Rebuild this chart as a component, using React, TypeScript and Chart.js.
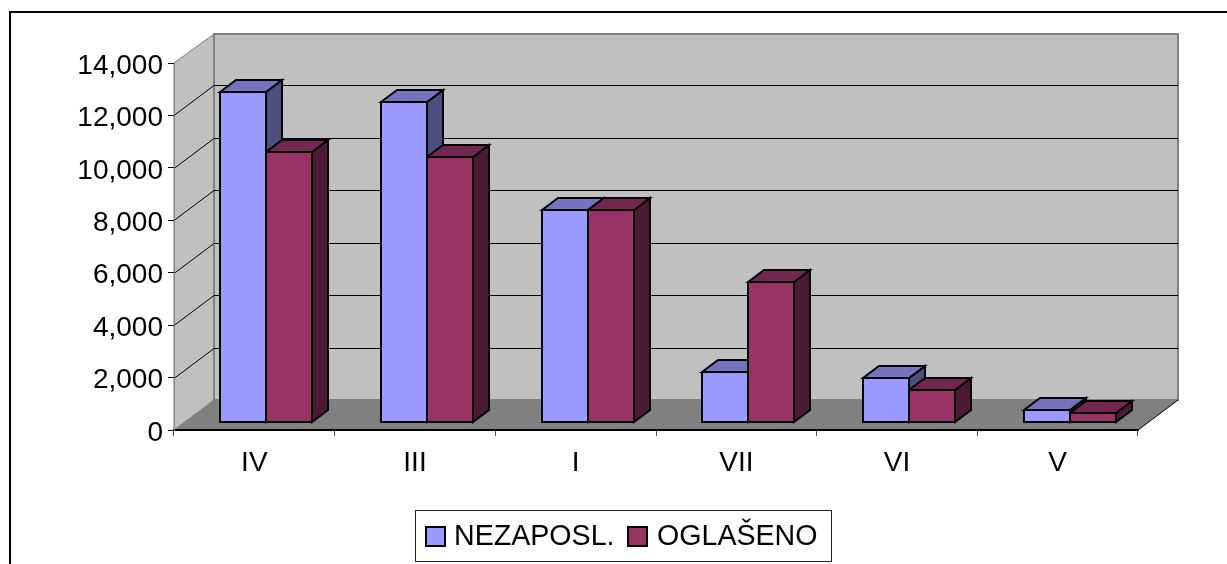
import React, { useEffect, useRef } from "react";
import { Chart, registerables } from "chart.js";

Chart.register(...registerables);

const categories = ["IV", "III", "I", "VII", "VI", "V"];
const nezaposl = [12650, 12290, 8160, 1970, 1760, 540];
const oglaseno = [10360, 10200, 8160, 5410, 1300, 420];
const yTicks = [0, 2000, 4000, 6000, 8000, 10000, 12000, 14000];
const seriesNames = ["NEZAPOSL.", "OGLAŠENO"];

const FONT = '"Liberation Sans", Arial, sans-serif';
const DEPTH_X = 40;
const DEPTH_Y = 30;
const BAR_SHIFT_X = 12;
const BAR_SHIFT_Y = 7;
const BAR_DX = 16;
const BAR_DY = 12;
const sideColors = ["#4D4D80", "#4D1A33"];
const topColors = ["#7373BF", "#732650"];

function poly(ctx: CanvasRenderingContext2D, pts: number[][], fill: string, stroke: string | null, lw = 1) {
  ctx.beginPath();
  pts.forEach(([x, y], i) => (i ? ctx.lineTo(x, y) : ctx.moveTo(x, y)));
  ctx.closePath();
  ctx.fillStyle = fill;
  ctx.fill();
  if (stroke) {
    ctx.strokeStyle = stroke;
    ctx.lineWidth = lw;
    ctx.stroke();
  }
}

const scenePlugin = {
  id: "scene3d",
  beforeDraw(chart: any) {
    const { ctx, chartArea: a, scales } = chart;
    const y = scales.y;
    // the reference's value labels sit slightly below their tick marks
    y.getLabelItems().forEach((it: any) => {
      if (!it.shifted) {
        it.options.translation[1] += 3;
        it.shifted = true;
      }
    });
    const l = a.left, r = a.right, t = a.top, b = a.bottom;
    ctx.save();
    // outer frame
    ctx.strokeStyle = "#000";
    ctx.lineWidth = 2;
    ctx.beginPath();
    ctx.moveTo(10, 564);
    ctx.lineTo(10, 12);
    ctx.lineTo(1227, 12);
    ctx.stroke();
    // left wall
    poly(ctx, [[l, t], [l + DEPTH_X, t - DEPTH_Y + 1], [l + DEPTH_X, b - DEPTH_Y], [l, b]], "#C0C0C0", "#808080", 1);
    // back wall
    poly(ctx, [[l + DEPTH_X, t - DEPTH_Y + 1], [r + DEPTH_X, t - DEPTH_Y + 1], [r + DEPTH_X, b - DEPTH_Y], [l + DEPTH_X, b - DEPTH_Y]], "#C0C0C0", "#808080", 2);
    // grid lines
    ctx.strokeStyle = "#000";
    ctx.lineWidth = 1;
    yTicks.slice(1, -1).forEach((v) => {
      const py = Math.round(y.getPixelForValue(v)) + 0.5;
      ctx.beginPath();
      ctx.moveTo(l, py);
      ctx.lineTo(l + DEPTH_X, py - DEPTH_Y);
      ctx.lineTo(r + DEPTH_X, py - DEPTH_Y);
      ctx.stroke();
    });
    // floor
    poly(ctx, [[l, b], [l + DEPTH_X, b - DEPTH_Y], [r + DEPTH_X, b - DEPTH_Y], [r, b]], "#808080", null);
    ctx.strokeStyle = "#000";
    ctx.lineWidth = 1;
    ctx.beginPath();
    ctx.moveTo(r, b);
    ctx.lineTo(r + DEPTH_X, b - DEPTH_Y);
    ctx.stroke();
    ctx.restore();
  },
  beforeDatasetsDraw(chart: any) {
    const { ctx } = chart;
    ctx.save();
    ctx.translate(BAR_SHIFT_X, -BAR_SHIFT_Y);
    // sides and tops of every bar, left series first, under all the front faces
    chart.data.datasets.forEach((_: any, i: number) => {
      chart.getDatasetMeta(i).data.forEach((bar: any) => {
        // snap to whole pixels so that the outlines stay crisp
        bar.x = Math.round(bar.x);
        bar.width = Math.round(bar.width);
        bar.y = Math.round(bar.y);
        bar.base = Math.round(bar.base);
        const x0 = bar.x - bar.width / 2 + 1;
        const x1 = bar.x + bar.width / 2 - 1;
        const top = bar.y + 1;
        const base = bar.base - 1;
        ctx.lineJoin = "miter";
        poly(ctx, [[x1, top], [x1 + BAR_DX, top - BAR_DY], [x1 + BAR_DX, base - BAR_DY], [x1, base]], sideColors[i], "#000", 2);
        poly(ctx, [[x0, top], [x0 + BAR_DX, top - BAR_DY], [x1 + BAR_DX, top - BAR_DY], [x1, top]], topColors[i], "#000", 2);
      });
    });
  },
  afterDatasetsDraw(chart: any) {
    chart.ctx.restore();
  },
  afterDraw(chart: any) {
    const { ctx } = chart;
    ctx.save();
    // legend frame
    ctx.strokeStyle = "#222";
    ctx.lineWidth = 1;
    ctx.fillStyle = "#fff";
    ctx.fillRect(416, 510, 416, 51);
    ctx.strokeRect(415.5, 510.5, 416, 51);
    const swatchX = [426, 628];
    const textX = [454, 657];
    chart.data.datasets.forEach((ds: any, i: number) => {
      ctx.fillStyle = ds.backgroundColor;
      ctx.strokeStyle = "#000";
      ctx.lineWidth = 2;
      ctx.fillRect(swatchX[i], 527, 19, 19);
      ctx.strokeRect(swatchX[i], 527, 19, 19);
      ctx.fillStyle = "#000";
      ctx.font = `28.6px ${FONT}`;
      ctx.textBaseline = "middle";
      ctx.textAlign = "left";
      ctx.fillText(ds.label, textX[i], 537);
    });
    ctx.restore();
  },
};

export default function App() {
  const ref = useRef<HTMLCanvasElement>(null);
  useEffect(() => {
    document.body.style.margin = "0";
    const chart = new Chart(ref.current!, {
      type: "bar",
      data: {
        labels: categories,
        datasets: [
          { label: seriesNames[0], data: nezaposl, backgroundColor: "#9999FF", borderColor: "#000", borderWidth: 2, borderSkipped: false, clip: false },
          { label: seriesNames[1], data: oglaseno, backgroundColor: "#993366", borderColor: "#000", borderWidth: 2, borderSkipped: false, clip: false },
        ] as any,
      },
      options: {
        animation: false,
        responsive: false,
        layout: { padding: { left: 0, right: 89, top: 63, bottom: 0 } },
        datasets: { bar: { categoryPercentage: 92 / 160.67, barPercentage: 48 / 46 } },
        plugins: { legend: { display: false }, tooltip: { enabled: false }, title: { display: false } },
        scales: {
          x: {
            grid: { drawOnChartArea: false, drawTicks: true, tickLength: 6, tickColor: "#555", offset: true },
            border: { color: "#000", width: 2 },
            ticks: { color: "#000", font: { family: FONT, size: 28 }, padding: 10, maxRotation: 0 },
            afterFit: (s: any) => { s.height = 134; },
          },
          y: {
            min: 0,
            max: 14000,
            grid: { drawOnChartArea: false, drawTicks: true, tickLength: 6, tickColor: "#000" },
            border: { color: "#808080", width: 1 },
            ticks: { stepSize: 2000, color: "#000", font: { family: FONT, size: 28 }, padding: 5, callback: (v: any) => Number(v).toLocaleString("en-US") },
            afterFit: (s: any) => { s.width = 174; },
          },
        },
      } as any,
      plugins: [scenePlugin],
    });
    return () => chart.destroy();
  }, []);
  return <canvas ref={ref} width={1227} height={564} style={{ display: "block", position: "absolute", left: 0, top: 0 }} />;
}
